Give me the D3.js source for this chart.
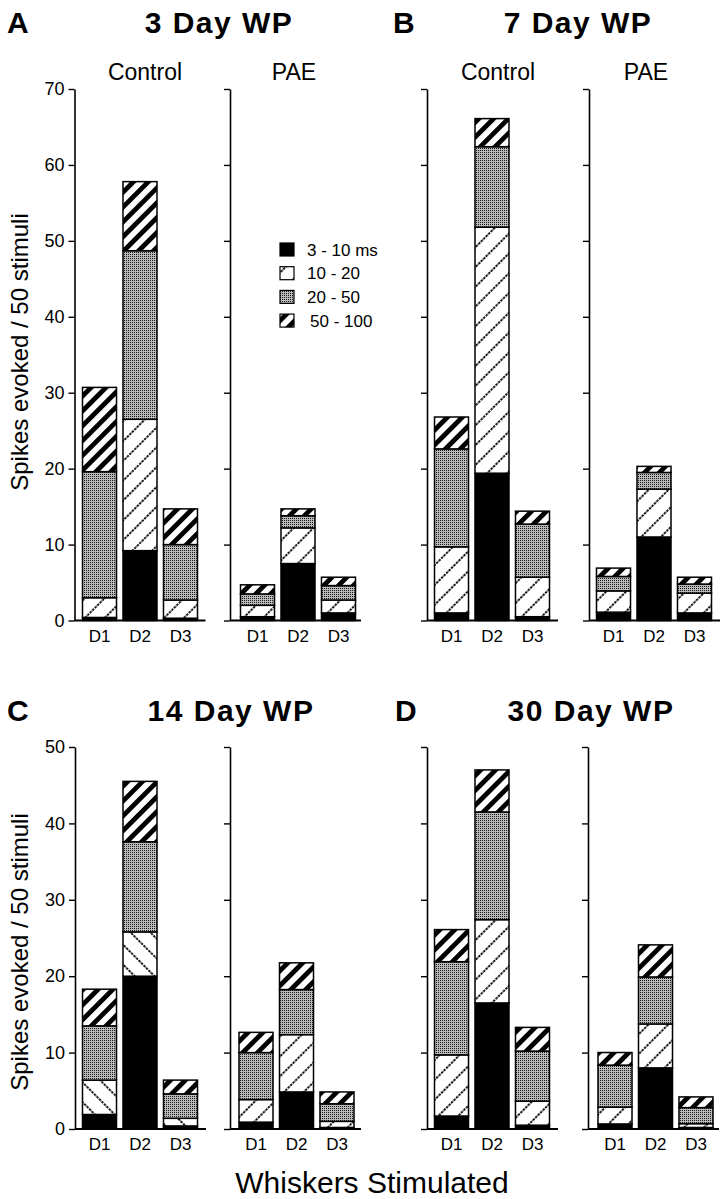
<!DOCTYPE html>
<html>
<head>
<meta charset="utf-8">
<script src="https://cdn.jsdelivr.net/npm/d3@7"></script>
<style>
  html, body { margin: 0; padding: 0; background: #fff; }
  svg { display: block; }
  text { font-family: "Liberation Sans", Arial, Helvetica, sans-serif; fill: #000; }
</style>
</head>
<body>
<script>
// ---------------- DATA ----------------
const categories = ["D1", "D2", "D3"];
const latencyBins = ["3 - 10 ms", "10 - 20", "20 - 50", "50 - 100"];
const panelLetters = ["A", "B", "C", "D"];
const panelTitles = ["3 Day WP", "7 Day WP", "14 Day WP", "30 Day WP"];
const groupNames = ["Control", "PAE"];
const yTicksTop = [0, 10, 20, 30, 40, 50, 60, 70];
const yTicksBottom = [0, 10, 20, 30, 40, 50];
const yLabel = "Spikes evoked / 50 stimuli";
const xLabel = "Whiskers Stimulated";

// values per whisker: [3-10 ms, 10-20, 20-50, 50-100]
const wp3Control  = [[0.4, 2.6, 16.6, 11.1], [9.2, 17.3, 22.2, 9.1], [0.3, 2.4, 7.3, 4.7]];
const wp3PAE      = [[0.5, 1.5, 1.5, 1.2],   [7.5, 4.7, 1.6, 0.9],   [1.0, 1.7, 1.9, 1.1]];
const wp7Control  = [[1.0, 8.7, 12.9, 4.2],  [19.4, 32.4, 10.6, 3.7], [0.5, 5.2, 7.0, 1.7]];
const wp7PAE      = [[1.1, 2.8, 1.9, 1.1],   [11.0, 6.3, 2.2, 0.8],  [1.0, 2.6, 1.2, 0.9]];
const wp14Control = [[1.9, 4.5, 7.1, 4.8],   [20.0, 5.8, 11.8, 7.9], [0.4, 1.0, 3.2, 1.8]];
const wp14PAE     = [[0.9, 2.95, 6.15, 2.65], [4.85, 7.5, 5.9, 3.5], [0.2, 0.8, 2.3, 1.55]];
const wp30Control = [[1.7, 8.0, 12.2, 4.2],  [16.5, 10.9, 14.1, 5.5], [0.5, 3.15, 6.55, 3.1]];
const wp30PAE     = [[0.66, 2.2, 5.5, 1.65], [8.0, 5.75, 6.15, 4.2], [0.2, 0.5, 2.1, 1.4]];

const panelSeries = [
  [wp3Control, wp3PAE],
  [wp7Control, wp7PAE],
  [wp14Control, wp14PAE],
  [wp30Control, wp30PAE]
];

// ---------------- LAYOUT ----------------
const W = 723, H = 1199;
const svg = d3.select("body").append("svg").attr("width", W).attr("height", H);
const font = '"Liberation Sans", Arial, Helvetica, sans-serif';

const rows = [
  { y: d3.scaleLinear().domain([0, 70]).range([620.5, 89]), ticks: yTicksTop, titleY: 33, subY: 80, labelCY: 352 },
  { y: d3.scaleLinear().domain([0, 50]).range([1129, 747]), ticks: yTicksBottom, titleY: 721, subY: null, labelCY: 952 }
];

const panels = [
  { row: 0, axes: [74.5, 230], barOff: [8, 10.5], letterX: 7, titleX: 219, subX: [145, 294], tickLabels: true,  hatchDir: [45, 45] },
  { row: 0, axes: [427, 589],  barOff: [7.5, 7.5], letterX: 393, titleX: 578, subX: [498, 646], tickLabels: false, hatchDir: [45, 45] },
  { row: 1, axes: [75, 230],   barOff: [7.5, 9],  letterX: 7, titleX: 231, subX: null, tickLabels: true,  hatchDir: [-45, 45] },
  { row: 1, axes: [427, 588],  barOff: [7.5, 10], letterX: 395, titleX: 591, subX: null, tickLabels: false, hatchDir: [45, 45] }
];

// ---------------- PATTERNS ----------------
const defs = svg.append("defs");
function hatchThin(id, angle) {
  const p = defs.append("pattern").attr("id", id).attr("patternUnits", "userSpaceOnUse")
    .attr("width", 14).attr("height", 14).attr("patternTransform", `rotate(${angle})`);
  p.append("rect").attr("width", 14).attr("height", 14).attr("fill", "#fff");
  p.append("line").attr("x1", 7).attr("x2", 7).attr("y1", 0).attr("y2", 14)
    .attr("stroke", "#000").attr("stroke-width", 1.8).attr("stroke-dasharray", "2.5 1");
}
hatchThin("h10a", 45);
hatchThin("h10b", -45);
{
  const p = defs.append("pattern").attr("id", "h50").attr("patternUnits", "userSpaceOnUse")
    .attr("width", 10.5).attr("height", 10.5).attr("patternTransform", "rotate(45)");
  p.append("rect").attr("width", 10.5).attr("height", 10.5).attr("fill", "#fff");
  p.append("rect").attr("width", 4.8).attr("height", 10.5).attr("fill", "#000");
}
{
  const p = defs.append("pattern").attr("id", "gray").attr("patternUnits", "userSpaceOnUse")
    .attr("width", 2).attr("height", 2);
  p.append("rect").attr("width", 2).attr("height", 2).attr("fill", "#bababa");
  p.append("rect").attr("width", 1).attr("height", 1).attr("fill", "#1a1a1a");
}
function fillFor(bin, hatchAngle) {
  if (bin === 0) return "#000";
  if (bin === 1) return hatchAngle < 0 ? "url(#h10b)" : "url(#h10a)";
  if (bin === 2) return "url(#gray)";
  return "url(#h50)";
}

const stack = d3.stack().keys(d3.range(latencyBins.length));

// ---------------- DRAW PANELS ----------------
panels.forEach((pn, pi) => {
  const row = rows[pn.row];
  const y = row.y;
  const g = svg.append("g");

  // panel letter + title
  g.append("text").attr("x", pn.letterX).attr("y", row.titleY)
    .attr("font-size", 30).attr("font-weight", "bold").text(panelLetters[pi]);
  g.append("text").attr("x", pn.titleX).attr("y", row.titleY)
    .attr("text-anchor", "middle").attr("font-size", 30).attr("font-weight", "bold")
    .attr("letter-spacing", 1.5).text(panelTitles[pi]);

  groupNames.forEach((gname, gi) => {
    const ax = pn.axes[gi];
    const x = d3.scaleBand().domain(categories)
      .range([ax + pn.barOff[gi], ax + pn.barOff[gi] + 115]).paddingInner(0.16);

    // bars
    const series = stack(panelSeries[pi][gi]);
    series.forEach((s, bi) => {
      g.append("g").selectAll("rect").data(s).join("rect")
        .attr("x", (d, j) => x(categories[j]))
        .attr("width", x.bandwidth())
        .attr("y", d => y(d[1]))
        .attr("height", d => Math.max(0, y(d[0]) - y(d[1])))
        .attr("fill", fillFor(bi, pn.hatchDir[gi]))
        .attr("stroke", "#000").attr("stroke-width", 1.5);
    });

    // y axis
    const axis = d3.axisLeft(y).tickValues(row.ticks).tickSize(6).tickSizeOuter(0).tickPadding(4)
      .tickFormat((pn.tickLabels && gi === 0) ? d3.format("d") : () => "");
    const ag = g.append("g").attr("transform", `translate(${ax},0)`).call(axis);
    ag.select(".domain").attr("stroke-width", 1.6);
    ag.selectAll(".tick line").attr("stroke-width", 1.4);
    ag.selectAll(".tick text").attr("font-size", 18).attr("font-family", font).attr("fill", "#000");

    // baseline
    g.append("line").attr("x1", ax).attr("x2", ax + 131)
      .attr("y1", y(0)).attr("y2", y(0)).attr("stroke", "#000").attr("stroke-width", 1.8);

    // category labels
    g.append("g").selectAll("text").data(categories).join("text")
      .attr("x", d => x(d) + x.bandwidth() / 2).attr("y", y(0) + 21)
      .attr("text-anchor", "middle").attr("font-size", 17).text(d => d);

    // group subtitle
    if (pn.subX) {
      g.append("text").attr("x", pn.subX[gi]).attr("y", row.subY)
        .attr("text-anchor", "middle").attr("font-size", 23).text(gname);
    }
  });
});

// ---------------- Y LABELS ----------------
rows.forEach(r => {
  svg.append("text").attr("transform", `translate(28,${r.labelCY}) rotate(-90)`)
    .attr("text-anchor", "middle").attr("font-size", 24).text(yLabel);
});

// ---------------- X LABEL ----------------
svg.append("text").attr("x", 372).attr("y", 1193).attr("text-anchor", "middle")
  .attr("font-size", 30).text(xLabel);

// ---------------- LEGEND ----------------
const legend = svg.append("g").attr("transform", "translate(280,243)");
latencyBins.forEach((lab, i) => {
  legend.append("rect").attr("x", 0).attr("y", i * 23.7).attr("width", 14).attr("height", 13)
    .attr("fill", fillFor(i, 45)).attr("stroke", "#000").attr("stroke-width", 1.2);
  legend.append("text").attr("x", i === 3 ? 30 : 27).attr("y", i * 23.7 + 12.5)
    .attr("font-size", 17).text(lab);
});
</script>
</body>
</html>
